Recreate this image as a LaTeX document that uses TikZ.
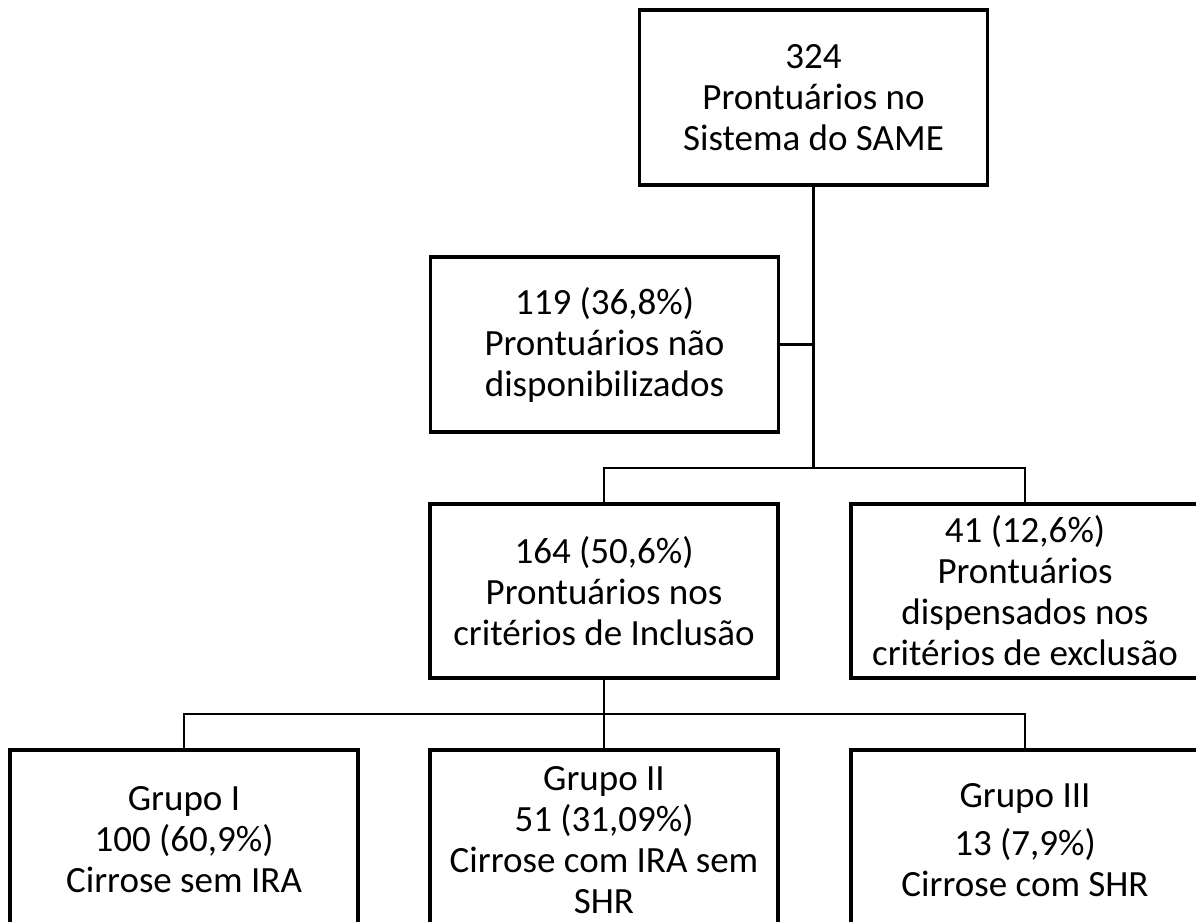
\documentclass[tikz,border=0pt]{standalone}
\usepackage{fontspec}
\setmainfont{Carlito}
\begin{document}
\begin{tikzpicture}[x=1pt,y=-1pt,
  box/.style={draw=black, line width=3.5pt, fill=white, minimum width=348pt, inner sep=0pt, align=center,
    font=\fontsize{37}{41}\selectfont},
  link/.style={draw=black, line width=2.6pt}]
\useasboundingbox (0,0) rectangle (1196,921);
\node[box, minimum height=175pt] (top) at (813.5,97.5) {324\\Prontuários no\\Sistema do SAME};
\node[box, minimum height=175pt] (n119) at (604.5,344.5) {119 (36,8\%)\\Prontuários não\\disponibilizados};
\node[box, minimum height=174pt] (n164) at (604,591) {164 (50,6\%)\\Prontuários nos\\critérios de Inclusão};
\node[box, minimum height=174pt] (n41) at (1025,591) {41 (12,6\%)\\Prontuários\\dispensados nos\\critérios de exclusão};
\node[box, minimum height=180pt] (g1) at (184,840) {Grupo I\\100 (60,9\%)\\Cirrose sem IRA};
\node[box, minimum height=180pt] (g2) at (604,840) {Grupo II\\51 (31,09\%)\\Cirrose com IRA sem\\SHR};
\node[box, minimum height=180pt] (g3) at (1025,840) {Grupo III\\[7pt]13 (7,9\%)\\Cirrose com SHR};
\coordinate (j1) at (813.5,468);
\coordinate (j2) at (604,714);
\draw[link] (top.south) -- (j1);
\draw[link] (n119.east) -- (n119.east -| j1);
\draw[link] (n164.north) |- (j1) -| (n41.north);
\draw[link] (n164.south) -- (j2);
\draw[link] (g1.north) |- (j2) -| (g3.north);
\draw[link] (j2) -- (g2.north);
\end{tikzpicture}
\end{document}
